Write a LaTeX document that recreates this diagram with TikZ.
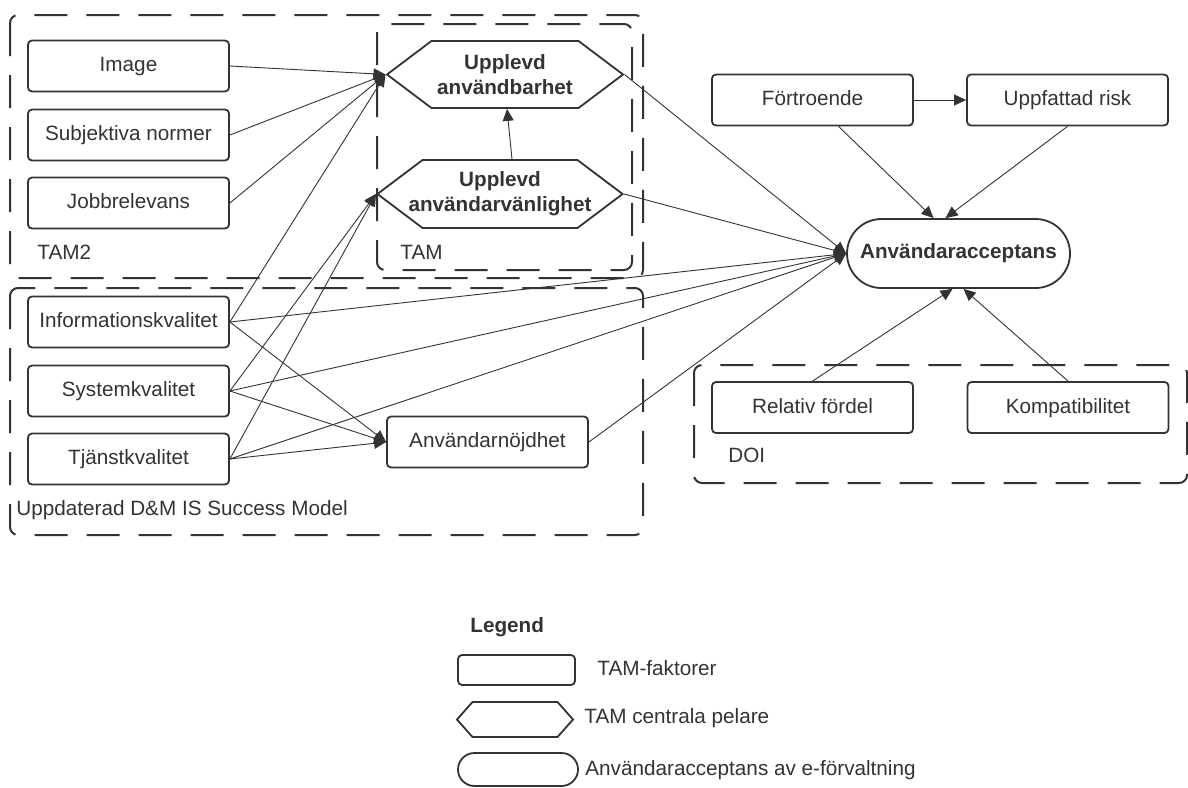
\documentclass[tikz,border=0pt]{standalone}
\usepackage{fontspec}
\setmainfont{Liberation Sans}
\usetikzlibrary{arrows.meta,shapes.symbols,shapes.misc}
\definecolor{ink}{HTML}{333333}

\begin{document}
\begin{tikzpicture}[x=0.5pt, y=-0.5pt,
  font=\fontsize{10.35}{12.5}\selectfont, text=ink,
  factor/.style={draw=ink, line width=0.9pt, rounded corners=2pt,
    minimum width=100.5pt, minimum height=25.5pt, inner sep=0pt,
    text height=7.6pt, text depth=2pt},
  pillar/.style={draw=ink, line width=0.9pt, shape=signal,
    signal to=east and west, signal pointer angle=74, align=center,
    inner sep=0pt, font=\fontsize{10.35}{12.5}\selectfont\bfseries},
  goal/.style={draw=ink, line width=0.9pt, shape=rounded rectangle,
    minimum width=111.5pt, minimum height=34.5pt, inner sep=0pt,
    font=\fontsize{10.35}{12.5}\selectfont\bfseries},
  frame/.style={draw=ink, line width=1pt, dash pattern=on 16.5pt off 9.5pt,
    rounded corners=4pt},
  tag/.style={anchor=west, inner sep=0pt},
  arr/.style={draw=ink, line width=0.45pt,
    -{Triangle[length=6pt, width=5.5pt]}}]
\useasboundingbox (0,0) rectangle (1188,787);

% Dashed groups
\draw[frame] (10,15) rectangle (643,278);
\draw[frame] (377,24) rectangle (632,270);
\draw[frame] (10,288) rectangle (643,535);
\draw[frame] (694,365) rectangle (1187,483);
\node[tag] (tamtwo) at (37,252) {TAM2};
\node[tag] (tam) at (400,252) {TAM};
\node[tag] (dm) at (16,510) {Uppdaterad D\&M IS Success Model};
\node[tag] (doi) at (728,455) {DOI};

% TAM2 factors
\node[factor] (img) at (128.5,66) {Image};
\node[factor] (subj) at (128.5,135) {Subjektiva normer};
\node[factor] (job) at (128.5,203) {Jobbrelevans};

% D&M factors
\node[factor] (info) at (128.5,322) {Informationskvalitet};
\node[factor] (sys) at (128.5,391) {Systemkvalitet};
\node[factor] (tj) at (128.5,459) {Tjänstkvalitet};
\node[factor] (nojd) at (487.5,442) {Användarnöjdhet};

% TAM pillars
\node[pillar, minimum width=118pt, minimum height=33.5pt] (upu) at (505,74.5) {Upplevd\\användbarhet};
\node[pillar, minimum height=34pt, inner xsep=-7pt] (upv) at (500,194) {Upplevd\\användarvänlighet};

% Right side
\node[factor] (fort) at (812.5,100) {Förtroende};
\node[factor] (risk) at (1067.5,100) {Uppfattad risk};
\node[goal] (acc) at (958.5,253.5) {Användaracceptans};
\node[factor] (rel) at (812.5,407.5) {Relativ fördel};
\node[factor] (komp) at (1068,407.5) {Kompatibilitet};

% Arrows
\foreach \src in {img,subj,job,info}
  \draw[arr] (\src.east) -- (upu.west);
\foreach \src in {sys,tj}
  \draw[arr] (\src.east) -- (upv.west);
\draw[arr] ([xshift=6pt]upv.north) -- ([xshift=1pt]upu.south);
\foreach \src in {info,sys,tj}
  \draw[arr] (\src.east) -- (nojd.west);
\foreach \src in {upu,upv,info,sys,tj,nojd}
  \draw[arr] (\src.east) -- (acc.west);
\draw[arr] (fort) -- (risk);
\draw[arr] ([xshift=13pt]fort.south) -- ([xshift=-12.5pt]acc.north);
\draw[arr] (risk.south) -- ([xshift=-6.5pt]acc.north);
\draw[arr] (rel.north) -- ([xshift=-3pt]acc.south);
\draw[arr] (komp.north) -- ([xshift=2.5pt]acc.south);

% Legend
\node[tag, font=\fontsize{10.35}{12.5}\selectfont\bfseries] (legend) at (470,627) {Legend};
\node[factor, minimum width=58.5pt, minimum height=15pt] (keyrect) at (516.5,670) {};
\node[tag] (keyrecttxt) at (597,668) {TAM-faktorer};
\node[pillar, minimum width=58pt, minimum height=17.5pt, signal pointer angle=97] (keyhex) at (515,719.5) {};
\node[tag] (keyhextxt) at (584,718) {TAM centrala pelare};
\node[goal, minimum width=60pt, minimum height=16.5pt] (keyacc) at (518,769.5) {};
\node[tag] (keyacctxt) at (585,770) {Användaracceptans av e-förvaltning};
\end{tikzpicture}
\end{document}
